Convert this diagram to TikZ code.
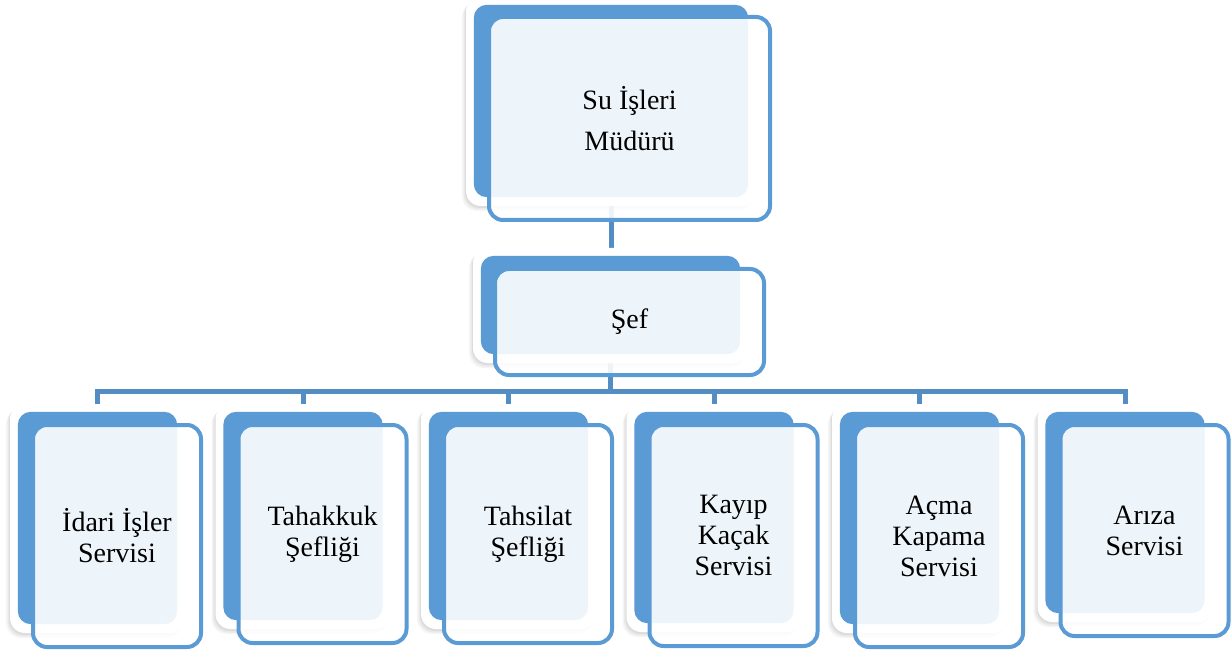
\documentclass[tikz,border=0pt]{standalone}
\usepackage{fontspec}
\setmainfont{Liberation Serif}
\usetikzlibrary{shadows,backgrounds}

\definecolor{accent}{RGB}{91,155,213}
\definecolor{linkblue}{RGB}{84,141,196}

\tikzset{
 card/.style={fill=white, inner sep=0pt, rounded corners=15pt,
   drop shadow={shadow xshift=-4pt, shadow yshift=-5pt, opacity=0.08},
   drop shadow={shadow xshift=-2.5pt, shadow yshift=-3.5pt, opacity=0.1},
   drop shadow={shadow xshift=-1pt, shadow yshift=-2pt, opacity=0.12}},
 back/.style={fill=accent, rounded corners=13pt},
 front/.style={draw=accent, line width=4pt, fill=white, fill opacity=0.9,
   text opacity=1, inner sep=0pt, rounded corners=14pt, align=center,
   font=\fontsize{28}{31}\selectfont},
 link/.style={draw=linkblue, line width=5pt}
}

\begin{document}
\begin{tikzpicture}[x=1pt,y=-1pt]
\useasboundingbox (0,0) rectangle (1231,652);

% Su Isleri Muduru
\node[card, minimum width=290pt, minimum height=209pt] (mudur) at (611,101.5) {};
\fill[back] ([shift={(8,8)}]mudur.north west) rectangle ([shift={(-8,-9)}]mudur.south east);
\node[front, minimum width=281pt, minimum height=203pt] (mudur-f) at (629.5,118.5)
 {Su İşleri\\[10pt]Müdürü};

% Sef
\node[card, minimum width=275pt, minimum height=115pt] (sef) at (610.5,305.5) {};
\fill[back] ([shift={(8,8)}]sef.north west) rectangle ([shift={(-8,-9)}]sef.south east);
\node[front, minimum width=269pt, minimum height=106pt] (sef-f) at (629.5,322) {Şef};

% servisler
\foreach \x/\fb/\txt/\name in {
 97.5/649/{İdari İşler\\Servisi}/idari,
 303/645/{Tahakkuk\\Şefliği}/tahakkuk,
 508.5/645/{Tahsilat\\Şefliği}/tahsilat,
 714/648/{Kayıp\\Kaçak\\Servisi}/kayip,
 919.5/649/{Açma\\Kapama\\Servisi}/acma,
 1125/638/{Arıza\\Servisi}/ariza}
{
 \node[card, minimum width=175pt, minimum height={(\fb-420)*1pt}] (\name) at (\x,{(\fb+388)/2}) {};
 \fill[back] ([shift={(8,8)}]\name.north west) rectangle ([shift={(-8,-9)}]\name.south east);
 \node[front, minimum width=168pt, minimum height={(\fb-427)*1pt}] (\name-f) at ({\x+19.5},{(\fb+423)/2}) {\txt};
}

\coordinate (bus) at (0,391);

\begin{scope}[on background layer]
 \draw[link] (mudur.center) -- (mudur.center |- sef.center);
 \draw[link] (sef.center) -- (sef.center |- bus);
 \draw[link] (idari.north) -- (idari.north |- bus) -- (ariza.north |- bus) -- (ariza.north);
 \foreach \n in {tahakkuk,tahsilat,kayip,acma}
 \draw[link] (\n.north) -- (\n.north |- bus);
\end{scope}

\end{tikzpicture}
\end{document}
